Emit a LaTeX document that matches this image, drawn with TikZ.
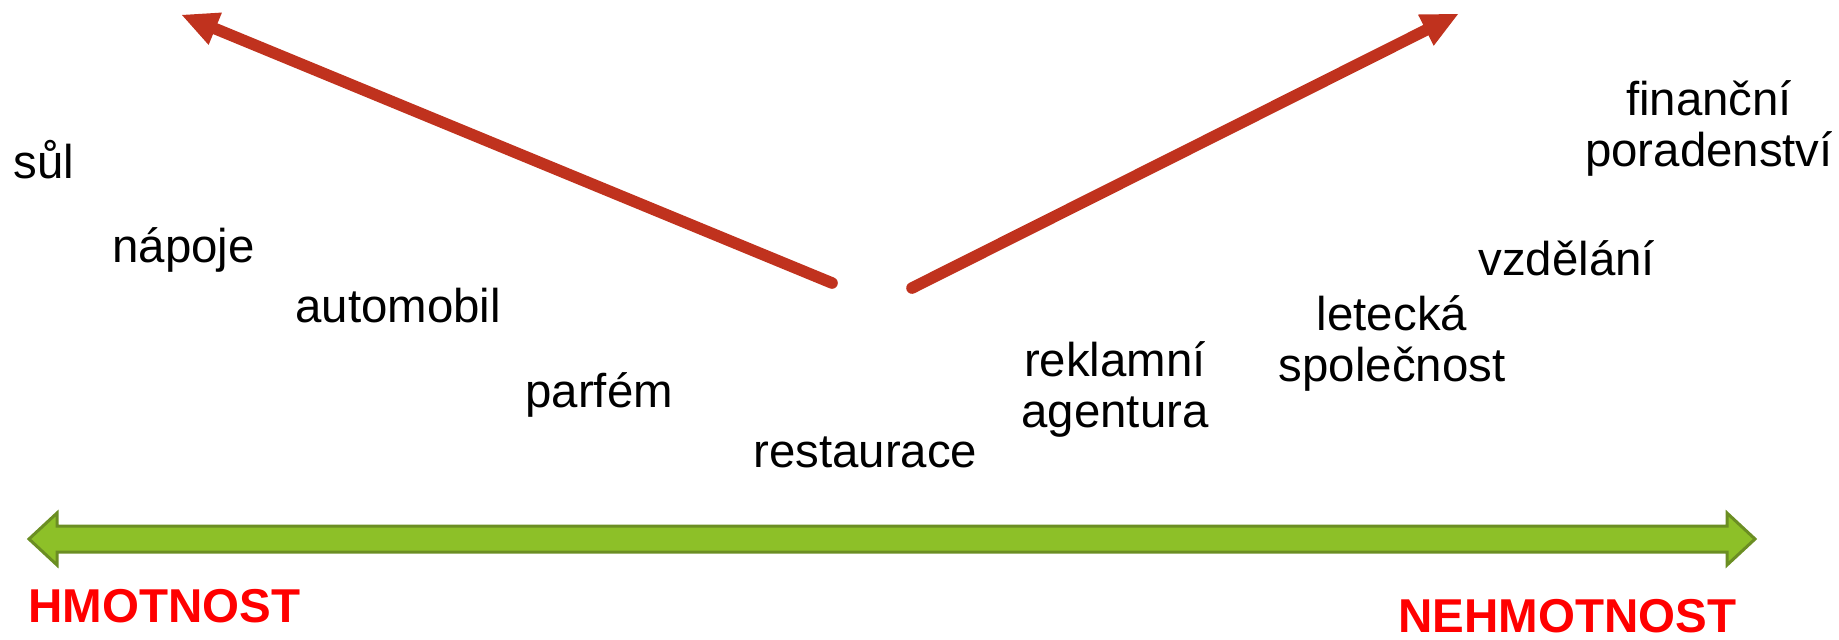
\documentclass[tikz,border=0pt]{standalone}
\usepackage{fontspec}
\setmainfont{Liberation Sans}
\usetikzlibrary{arrows.meta,positioning}
\definecolor{trendred}{RGB}{192,50,30}
\definecolor{axisgreen}{RGB}{141,192,40}
\definecolor{axisdark}{RGB}{107,142,35}
\definecolor{polered}{RGB}{255,0,0}
\newcommand{\itemfont}{\fontsize{23.7pt}{25.5pt}\selectfont}
\newcommand{\polefont}{\fontsize{23.75pt}{25.5pt}\selectfont\bfseries}
\tikzset{
  item/.style  = {anchor=base west, inner sep=0pt, font=\itemfont},
  pair/.style  = {item, anchor=base, align=center},
  pole/.style  = {item, font=\polefont, text=polered},
  trend/.style = {line width=5.8pt, draw=trendred, line cap=round,
                  -{Triangle[length=18pt,width=17.5pt,line width=0pt]}},
  axis/.style  = {fill=axisgreen, draw=axisdark, line width=1.5pt,
                  line join=miter}
}

\begin{document}
\begin{tikzpicture}[x=0.5pt,y=-0.5pt]
  \useasboundingbox (0,0) rectangle (1839,639);
  % the two trends
  \coordinate (lstart) at (832,283);
  \coordinate (ltip)   at (182,15);
  \coordinate (rstart) at (912,288);
  \coordinate (rtip)   at (1458,14);
  \draw [trend] (lstart) -- (ltip);
  \draw [trend] (rstart) -- (rtip);
  % goods and services (pair nodes sit on their last line)
  \node [item] (sul)        at (13,178)   {sůl};
  \node [item] (napoje)     at (112,262)  {nápoje};
  \node [item] (automobil)  at (295,322)  {automobil};
  \node [item] (parfem)     at (525,407)  {parfém};
  \node [item] (restaurace) at (753,467)  {restaurace};
  \node [pair] (reklama)    at (1115,427) {reklamní\\agentura};
  \node [pair] (letecka)    at (1392,381) {letecká\\společnost};
  \node [item] (vzdelani)   at (1478,275) {vzdělání};
  \node [pair] (finance)    at (1709,166) {finanční\\poradenství};
  % axis
  \draw [axis] (29,539) -- (57,513) -- (57,526) -- (1727,526) -- (1727,513)
    -- (1755,539) -- (1727,565) -- (1727,552) -- (57,552) -- (57,565) -- cycle;
  \node [pole] (hmotnost)   at (28,622)   {HMOTNOST};
  \node [pole] (nehmotnost) at (1398,632) {NEHMOTNOST};
\end{tikzpicture}
\end{document}
